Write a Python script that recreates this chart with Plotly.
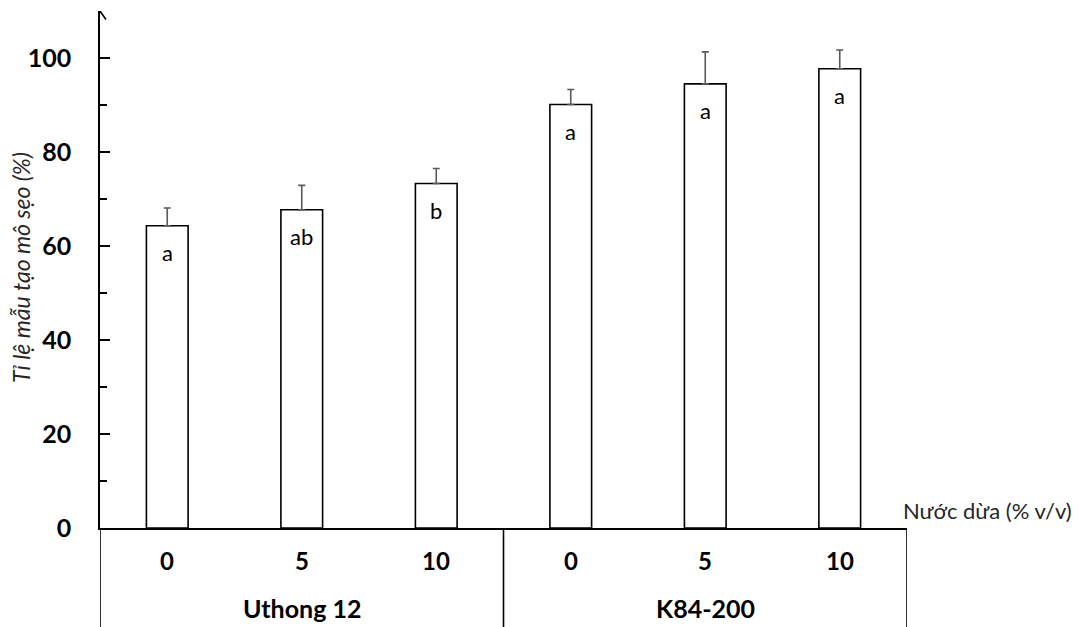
import plotly.graph_objects as go

# ---- data ----
categories = ["0", "5", "10", "0", "5", "10"]
groups = ["Uthong 12", "K84-200"]
group_sizes = [3, 3]
values = [64.3, 67.7, 73.3, 90.1, 94.5, 97.7]
errors = [3.8, 5.2, 3.2, 3.2, 6.8, 4.0]
letters = ["a", "ab", "b", "a", "a", "a"]
yticks = [0, 20, 40, 60, 80, 100]
y_title = "Tỉ lệ mẫu tạo mô sẹo (%)"
x_title = "Nước dừa (% v/v)"

FONT = "Lato"
xs = list(range(len(values)))
x_min, x_max = -0.5, len(values) - 0.5
y_max = 110

fig = go.Figure()
fig.add_trace(go.Bar(
    x=xs, y=values, width=0.31,
    marker=dict(color="white", line=dict(color="black", width=1.6)),
    error_y=dict(type="data", array=errors, arrayminus=[0] * len(errors),
                 symmetric=False, color="#5a5a5a", thickness=1.6, width=3.5),
    showlegend=False, hoverinfo="skip",
))

annotations = []
# significance letters inside bars
for x, v, t in zip(xs, values, letters):
    annotations.append(dict(x=x, y=v, xref="x", yref="y", text=t, showarrow=False,
                            yanchor="middle", yshift=-27,
                            font=dict(family=FONT, size=22, color="black")))
# category labels
for x, c in zip(xs, categories):
    annotations.append(dict(x=x, y=0, xref="x", yref="paper", text=f"<b>{c}</b>",
                            showarrow=False, yanchor="middle", yshift=-32,
                            font=dict(family=FONT, size=24, color="black")))
# group labels
start = 0
dividers = []
for g, n in zip(groups, group_sizes):
    center = start + (n - 1) / 2
    annotations.append(dict(x=center, y=0, xref="x", yref="paper", text=f"<b>{g}</b>",
                            showarrow=False, yanchor="middle", yshift=-80,
                            font=dict(family=FONT, size=25, color="black")))
    start += n
    dividers.append(start - 0.5)

# axis titles
annotations.append(dict(x=x_min, y=55.3, xref="x", yref="y", text=f"<i>{y_title}</i>",
                        showarrow=False, textangle=-90, xanchor="center", yanchor="middle",
                        xshift=-79, font=dict(family=FONT, size=23, color="#262626")))
annotations.append(dict(x=1.207, y=0, xref="paper", yref="paper", text=x_title,
                        showarrow=False, xanchor="right", yanchor="middle", yshift=18,
                        font=dict(family=FONT, size=22, color="#262626")))

shapes = []
line_style = dict(color="black", width=1.6)
# table vertical lines (left border continuing y-axis, dividers incl. right border)
for xd in [x_min] + dividers:
    shapes.append(dict(type="line", xref="x", yref="paper", x0=xd, x1=xd,
                       y0=0, y1=-0.3, line=line_style))
# arrow head at top of y axis
for dx in (-6, 6):
    shapes.append(dict(type="line", xref="x", yref="y", xsizemode="pixel", xanchor=x_min,
                       x0=dx, x1=0, y0=y_max - 1.8, y1=y_max, line=line_style))

# the page body has an 8px default margin, so the figure is sized to fit the window
fig.update_layout(
    width=1072, height=619,
    margin=dict(l=92, r=173, t=3, b=99, autoexpand=False),
    plot_bgcolor="white", paper_bgcolor="white",
    annotations=annotations, shapes=shapes,
    xaxis=dict(range=[x_min, x_max], showline=True, linecolor="black", linewidth=1.6,
               showticklabels=False, ticks="", showgrid=False, zeroline=False),
    yaxis=dict(range=[0, y_max], showline=True, linecolor="black", linewidth=1.6,
               tickvals=yticks, ticks="inside", ticklen=10, tickwidth=1.6, tickcolor="black",
               minor=dict(dtick=10, tick0=0, ticks="inside", ticklen=7, tickwidth=1.6,
                          tickcolor="black", showgrid=False),
               ticklabelstandoff=22,
               tickfont=dict(family=FONT, size=25, color="black", weight="bold"),
               showgrid=False, zeroline=False),
)

fig.write_html("out.html")
